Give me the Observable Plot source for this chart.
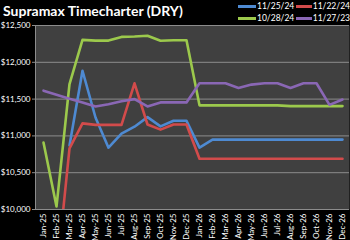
<!DOCTYPE html>
<html><head><meta charset="utf-8">
<script src="https://cdn.jsdelivr.net/npm/d3@7"></script>
<script src="https://cdn.jsdelivr.net/npm/@observablehq/plot@0.6"></script>
<style>
body{margin:0;background:#000;}
#wrap{position:relative;width:350px;height:240px;overflow:hidden;font-family:Lato,"Noto Sans",sans-serif;background:#000;}
#title{position:absolute;left:3px;top:2px;color:#fff;font-weight:bold;font-size:14px;white-space:nowrap;z-index:2;}
#legend{position:absolute;left:238px;top:1px;display:grid;grid-template-columns:58px 54px;row-gap:2px;z-index:2;}
.item{display:flex;align-items:center;color:#fff;font-size:8.5px;height:10px;}
.sw{width:18px;height:3px;margin-right:1px;}
#chart{position:absolute;left:0;top:0;}
</style></head>
<body>
<div id="wrap">
<div id="title">Supramax Timecharter (DRY)</div>
<div id="legend"></div>
<div id="chart"></div>
</div>
<script>
const months = ["Jan-25","Feb-25","Mar-25","Apr-25","May-25","Jun-25","Jul-25","Aug-25","Sep-25","Oct-25","Nov-25","Dec-25",
                "Jan-26","Feb-26","Mar-26","Apr-26","May-26","Jun-26","Jul-26","Aug-26","Sep-26","Oct-26","Nov-26","Dec-26"];
const seriesNames = ["11/25/24","11/22/24","10/28/24","11/27/23"];
const seriesColors = ["#4e8ad2","#d24b4b","#9cc94c","#8a67b5"];
const s_112524 = [null,null,10870,11885,11250,10840,11030,11125,11255,11130,11205,11205,
                  10840,10950,10950,10950,10950,10950,10950,10950,10950,10950,10950,10950];
const s_112224 = [null,9100,10830,11170,11150,11150,11150,11715,11155,11085,11155,11155,
                  10690,10690,10690,10690,10690,10690,10690,10690,10690,10690,10690,10690];
const s_102824 = [10910,10040,11705,12305,12295,12295,12345,12350,12360,12293,12300,12300,
                  11415,11415,11415,11415,11415,11415,11415,11405,11405,11405,11405,11405];
const s_112723 = [11615,11560,11505,11455,11400,11430,11470,11500,11400,11455,11455,11455,
                  11715,11715,11715,11652,11697,11715,11715,11652,11715,11715,11422,11494];
const yTicks = [10000,10500,11000,11500,12000,12500];

const allSeries = [s_112524, s_112224, s_102824, s_112723];
const rows = [];
allSeries.forEach((vals, si) => vals.forEach((v, i) => rows.push({month: months[i], value: v, series: seriesNames[si]})));

const legend = document.getElementById("legend");
seriesNames.forEach((n, i) => {
  const d = document.createElement("div"); d.className = "item";
  d.innerHTML = `<span class="sw" style="background:${seriesColors[i]}"></span>${n}`;
  legend.appendChild(d);
});

const chart = Plot.plot({
  width: 350, height: 240,
  marginLeft: 35, marginRight: 1, marginTop: 25, marginBottom: 31,
  style: {background: "transparent", color: "#fff", fontFamily: "Lato, 'Noto Sans', sans-serif", fontSize: "8px"},
  x: {type: "point", domain: months, padding: 0.5, label: null},
  y: {domain: [10000, 12500], label: null},
  color: {domain: seriesNames, range: seriesColors},
  marks: [
    Plot.frame({fill: "#404040", stroke: null}),
    Plot.gridY(yTicks, {stroke: "#8c8c8c", strokeOpacity: 1, strokeWidth: 1}),
    Plot.frame({anchor: "left", stroke: "#8c8c8c"}),
    Plot.axisY(yTicks, {tickSize: 3, tickPadding: 2, stroke: "#8c8c8c", fill: "#fff", tickFormat: d => "$" + d3.format(",")(d)}),
    Plot.axisX({tickRotate: -90, tickSize: 0, tickPadding: 4, fill: "#fff"}),
    Plot.line(rows, {x: "month", y: "value", z: "series", stroke: "series", strokeWidth: 2.6, clip: true, strokeLinejoin: "round"})
  ]
});
document.getElementById("chart").appendChild(chart);
</script>
</body></html>
